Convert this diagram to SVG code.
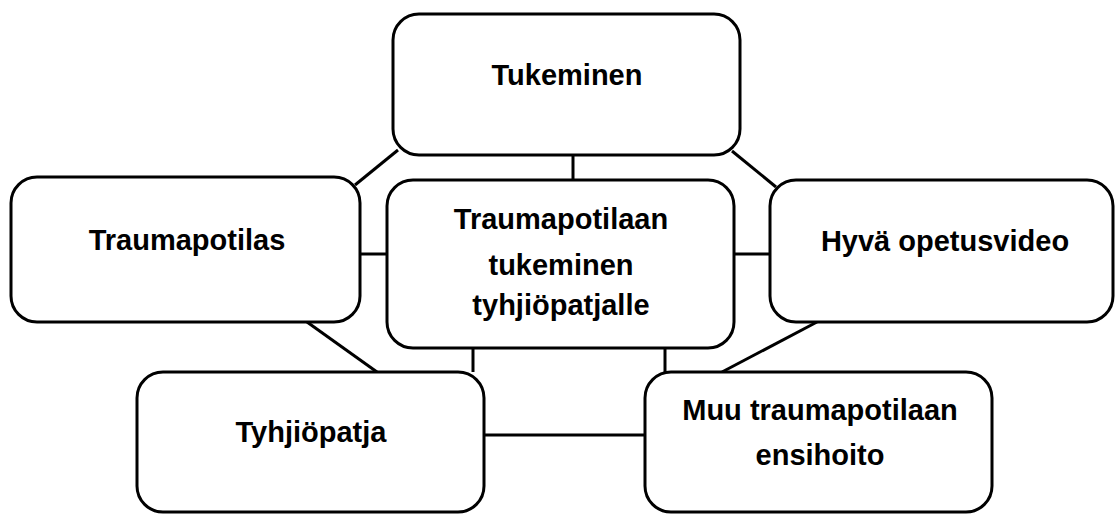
<svg xmlns="http://www.w3.org/2000/svg" width="1115" height="514" viewBox="0 0 1115 514">
<style>
.box{fill:#fff;stroke:#000;stroke-width:3}
.con line{stroke:#000;stroke-width:3}
text{font-family:"Liberation Sans",Arial,sans-serif;font-weight:bold;font-size:29px;fill:#000;text-anchor:middle}
</style>
<rect width="1115" height="514" fill="#fff"/>
<g class="con">
<line x1="398" y1="150" x2="355" y2="185"/>
<line x1="573" y1="155" x2="573" y2="181"/>
<line x1="732" y1="151" x2="776" y2="187"/>
<line x1="360" y1="254" x2="387" y2="254"/>
<line x1="734" y1="254" x2="770" y2="254"/>
<line x1="307" y1="322" x2="377" y2="372"/>
<line x1="473" y1="348" x2="473" y2="372"/>
<line x1="665" y1="348" x2="665" y2="372"/>
<line x1="817" y1="322" x2="722" y2="372"/>
<line x1="484" y1="435" x2="645" y2="435"/>
</g>
<g id="n1"><rect class="box" x="393" y="14" width="347" height="141" rx="26"/><text x="567" y="85">Tukeminen</text></g>
<g id="n2"><rect class="box" x="11" y="177" width="349" height="145" rx="26"/><text x="187" y="250">Traumapotilas</text></g>
<g id="n3"><rect class="box" x="387" y="180" width="347" height="168" rx="26"/><text x="561" y="229">Traumapotilaan</text><text x="561" y="275">tukeminen</text><text x="561" y="315">tyhjiöpatjalle</text></g>
<g id="n4"><rect class="box" x="770" y="180" width="343" height="142" rx="26"/><text x="945" y="251">Hyvä opetusvideo</text></g>
<g id="n5"><rect class="box" x="137" y="372" width="347" height="140" rx="26"/><text x="311" y="442">Tyhjiöpatja</text></g>
<g id="n6"><rect class="box" x="645" y="372" width="347" height="140" rx="26"/><text x="820" y="420">Muu traumapotilaan</text><text x="820" y="465">ensihoito</text></g>
</svg>
